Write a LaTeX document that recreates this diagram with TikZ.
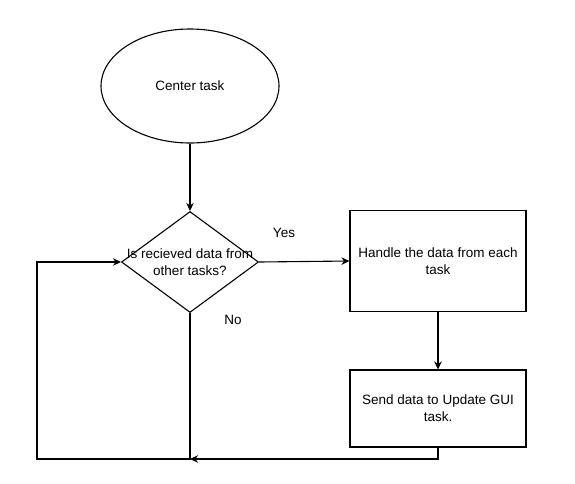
\documentclass[tikz,border=0pt]{standalone}
\usepackage{fontspec}
\setmainfont{Liberation Sans}
\usetikzlibrary{shapes.geometric,arrows.meta}
\begin{document}
\begin{tikzpicture}[x=1pt,y=-1pt,line width=1.1pt,>={Stealth[length=8pt,width=7.5pt,inset=2.5pt]},
  every node/.style={font=\fontsize{13.5}{17}\selectfont},
  taskbox/.style={draw,rectangle,minimum width=176pt,align=center,inner sep=0pt}]
\useasboundingbox (0,0) rectangle (575,483);
\node[draw,ellipse,minimum width=178pt,minimum height=114pt,inner sep=0pt] (center) at (190,86) {Center task};
\node[draw,diamond,minimum width=137pt,minimum height=101pt,inner sep=0pt] (check) at (190,262) {};
\node[align=center] (checktext) at (190,262) {Is recieved data from\\other tasks?};
\node[taskbox,minimum height=101pt] (handle) at (438,261) {Handle the data from each\\task};
\node[taskbox,minimum height=77pt] (send) at (438,408.5) {Send data to Update GUI\\task.};
\node (yes) at (284,233) {Yes};
\node (no) at (233,320) {No};
\coordinate (join) at (190,459);
\coordinate (loopleft) at (37,459);
\draw[->] (center) -- (check);
\draw[->] (check.east) -- (handle.west);
\draw[->] (handle) -- (send);
\draw[->] (send.south) |- (join);
\draw[->] (check.south) -- (join) -- (loopleft) |- (check.west);
\end{tikzpicture}
\end{document}
